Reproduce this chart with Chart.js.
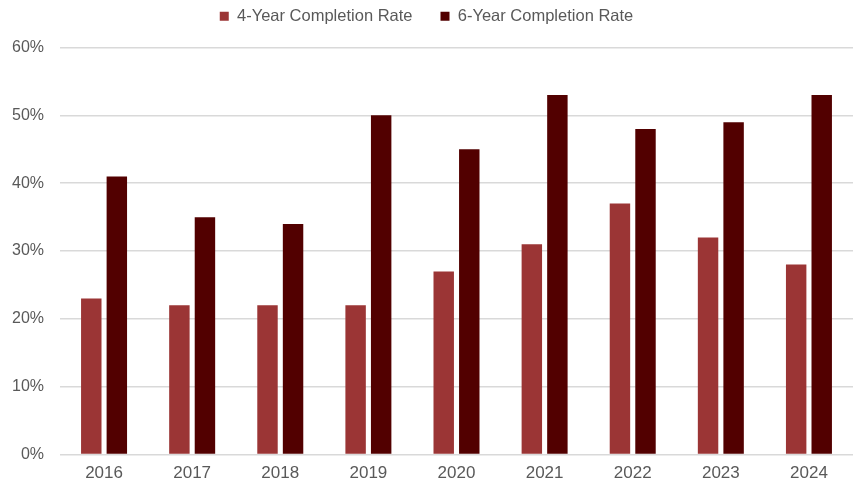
<!DOCTYPE html>
<html>
<head>
<meta charset="utf-8">
<script src="https://cdn.jsdelivr.net/npm/chart.js@4"></script>
<style>
  html, body { margin: 0; padding: 0; background: #fff; overflow: hidden; }
  canvas { display: block; }
</style>
</head>
<body>
<canvas class="chart" width="854" height="485"></canvas>
<script>
const years = ['2016', '2017', '2018', '2019', '2020', '2021', '2022', '2023', '2024'];
const fourYear = [23, 22, 22, 22, 27, 31, 37, 32, 28];
const sixYear = [41, 35, 34, 50, 45, 53, 48, 49, 53];
const yTicks = [0, 10, 20, 30, 40, 50, 60];

const data = {
  labels: years,
  datasets: [{
    label: '4-Year Completion Rate',
    backgroundColor: '#9b3535',
    data: fourYear,
  }, {
    label: '6-Year Completion Rate',
    backgroundColor: '#520000',
    data: sixYear,
  }]
};

// extra room between the legend and the plot
const legendGap = {
  id: 'legendGap',
  beforeInit(chart) {
    const fit = chart.legend.fit;
    chart.legend.fit = function () {
      fit.bind(chart.legend)();
      this.height += 13;
    };
  }
};

const config = {
  type: 'bar',
  data: data,
  plugins: [legendGap],
  options: {
    responsive: false,
    animation: false,
    categoryPercentage: 0.58,
    barPercentage: 0.8,
    layout: { padding: { left: 0, right: 1, top: -20, bottom: 0 } },
    plugins: {
      legend: {
        position: 'top',
        labels: {
          boxWidth: 9,
          boxHeight: 9,
          padding: 28,
          color: '#595959',
          font: { family: 'Liberation Sans', size: 16.5 }
        }
      },
      tooltip: { enabled: false }
    },
    scales: {
      x: {
        grid: { display: false },
        border: { display: false },
        ticks: {
          color: '#595959',
          padding: 1,
          font: { family: 'Liberation Sans', size: 17 }
        }
      },
      y: {
        min: 0,
        max: 60,
        afterBuildTicks: (axis) => { axis.ticks = yTicks.map(v => ({ value: v })); },
        afterFit: (axis) => { axis.width = 60; },
        grid: { color: '#d9d9d9', lineWidth: 1.5, drawTicks: false },
        border: { display: false },
        ticks: {
          color: '#595959',
          padding: 16,
          font: { family: 'Liberation Sans', size: 16 },
          callback: (v) => v + '%'
        }
      }
    }
  }
};

const myChart = new Chart(document.querySelector('.chart'), config);
</script>
</body>
</html>
